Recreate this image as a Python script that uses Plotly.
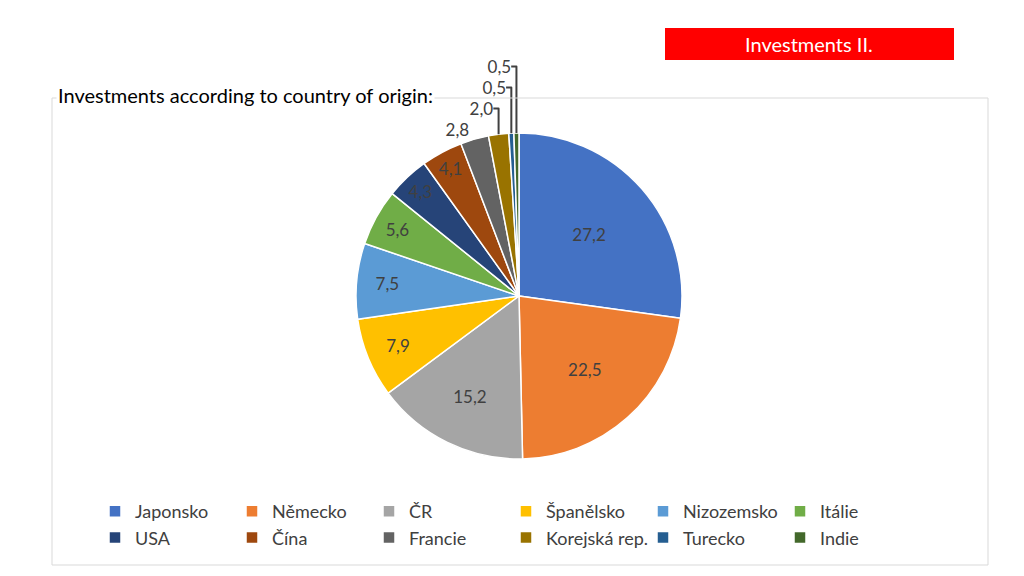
import plotly.graph_objects as go

# data
countries = ["Japonsko", "Německo", "ČR", "Španělsko", "Nizozemsko", "Itálie",
             "USA", "Čína", "Francie", "Korejská rep.", "Turecko", "Indie"]
shares = [27.2, 22.5, 15.2, 7.9, 7.5, 5.6, 4.3, 4.1, 2.8, 2.0, 0.5, 0.5]
colors = ["#4472C4", "#ED7D31", "#A5A5A5", "#FFC000", "#5B9BD5", "#70AD47",
          "#264478", "#9E480E", "#636363", "#997300", "#255E91", "#43682B"]
label_pos = ["inside"] * 8 + ["outside"] * 4

# the page body has an 8px margin, so the figure is a bit smaller than the window
W, H = 1016, 568
ML, MR = 60, 56          # side margins -> plot area 900px wide (legend wraps on it)
PW = W - ML - MR
FONT = "Lato"


def px(x):
    # screen x (reference pixels) -> paper fraction
    return (x - 8 - ML) / PW


def py(y):
    return 1 - (y - 8) / H


fig = go.Figure()

fig.add_trace(go.Pie(
    labels=countries,
    values=shares,
    sort=False,
    direction="clockwise",
    rotation=0,
    marker=dict(colors=colors, line=dict(color="white", width=1.5)),
    texttemplate="%{value:.1f}",
    textposition=label_pos,
    insidetextorientation="horizontal",
    textfont=dict(family=FONT, size=17, color="#404040"),
    domain=dict(x=[px(356), px(682)], y=[py(459), py(133)]),
    hoverinfo="label+value",
))

# chart frame
fig.add_shape(type="rect", xref="paper", yref="paper",
              x0=px(52), x1=px(988), y0=py(565), y1=py(98),
              line=dict(color="#D9D9D9", width=1), fillcolor="rgba(0,0,0,0)")

# red header box
fig.add_shape(type="rect", xref="paper", yref="paper",
              x0=px(665), x1=px(954), y0=py(60), y1=py(28),
              line=dict(width=0), fillcolor="#FF0000")
fig.add_annotation(text="Investments II.", xref="paper", yref="paper",
                   x=px(809), y=py(44), xanchor="center", yanchor="middle",
                   showarrow=False,
                   font=dict(family=FONT, size=20, color="white"))

fig.add_annotation(text="Investments according to country of origin:",
                   xref="paper", yref="paper", x=px(56), y=py(95),
                   xanchor="left", yanchor="middle", showarrow=False,
                   bgcolor="white", borderpad=1,
                   font=dict(family=FONT, size=20, color="black"))

fig.update_layout(
    width=W, height=H,
    margin=dict(l=ML, r=MR, t=0, b=0),
    paper_bgcolor="white",
    separators=", ",
    font=dict(family=FONT),
    showlegend=True,
    legend=dict(
        orientation="h",
        x=px(95), y=py(493), xanchor="left", yanchor="top",
        entrywidth=137 / PW, entrywidthmode="fraction",
        bgcolor="rgba(0,0,0,0)",
        font=dict(family=FONT, size=18, color="#404040"),
        traceorder="normal",
    ),
)

fig.write_html("out.html")
